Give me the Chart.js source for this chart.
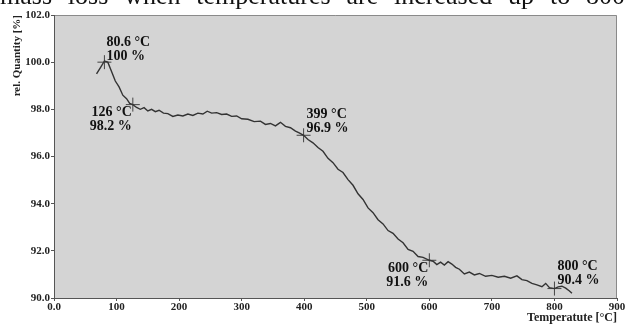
<!DOCTYPE html>
<html>
<head>
<meta charset="utf-8">
<script src="https://cdn.jsdelivr.net/npm/chart.js@4/dist/chart.umd.min.js"></script>
<style>
  html, body { margin: 0; padding: 0; background: #fff; }
  #wrap { width: 625px; height: 325px; position: relative; }
</style>
</head>
<body>
<div id="wrap"><canvas id="chart-tga"></canvas></div>
<script>
// TGA trace: temperature [°C] vs rel. quantity [%]
var temps = [68, 75, 80.6, 86, 92, 98, 104, 110, 116, 121, 126, 132, 138, 144, 150, 156, 162, 168, 175, 182,
    190, 198, 206, 214, 222, 230, 238, 245, 252, 260, 268, 276, 284, 292, 300, 310, 320, 330, 338, 346,
    354, 362, 370, 378, 386, 392, 399, 406, 414, 422, 430, 438, 446, 454, 462, 470, 478, 486, 494, 502,
    510, 518, 526, 534, 542, 550, 558, 566, 574, 582, 590, 600, 606, 612, 618, 624, 630, 636, 642, 648,
    656, 664, 672, 680, 690, 700, 710, 720, 730, 740, 748, 756, 764, 772, 780, 786, 792, 800, 806, 812,
    818, 824, 828];
var quantity = [99.5, 99.8, 100.05, 100.0, 99.6, 99.2, 98.95, 98.6, 98.45, 98.25, 98.2, 98.08, 98.0, 98.07, 97.93, 98.0, 97.9, 97.96, 97.84, 97.82,
    97.7, 97.76, 97.72, 97.8, 97.74, 97.84, 97.8, 97.92, 97.84, 97.86, 97.78, 97.8, 97.7, 97.72, 97.6, 97.58, 97.48, 97.5, 97.36, 97.4,
    97.3, 97.45, 97.28, 97.22, 97.08, 97.0, 96.9, 96.72, 96.58, 96.38, 96.22, 95.92, 95.74, 95.46, 95.32, 95.02, 94.78, 94.42, 94.18, 93.82,
    93.62, 93.32, 93.14, 92.86, 92.74, 92.5, 92.34, 92.06, 91.98, 91.76, 91.72, 91.6, 91.56, 91.42, 91.52, 91.4, 91.54, 91.44, 91.3, 91.22,
    91.02, 91.1, 90.98, 91.04, 90.92, 90.96, 90.88, 90.92, 90.84, 90.94, 90.78, 90.74, 90.62, 90.56, 90.48, 90.62, 90.44, 90.4, 90.47, 90.5,
    90.42, 90.3, 90.2];

// marked points on the curve
var markTemps = [80.6, 126, 399, 600, 800];
var markValues = [100, 98.2, 96.9, 91.6, 90.4];
var markLabels = [['80.6 °C', '100 %'], ['126 °C', '98.2 %'], ['399 °C', '96.9 %'], ['600 °C', '91.6 %'], ['800 °C', '90.4 %']];

var xTicks = [0, 100, 200, 300, 400, 500, 600, 700, 800, 900];
var yTicks = [90, 92, 94, 96, 98, 100, 102];

var captionText = 'mass loss when temperatures are increased up to 800';

var serif = '"Liberation Serif", "Times New Roman", serif';

var curvePoints = temps.map(function(t, i) { return {x: t, y: quantity[i]}; });
var markPoints = markTemps.map(function(t, i) { return {x: t, y: markValues[i]}; });

// label placement around each mark: [dx, dy of first line, align]
var labelPlace = [[2, -20, 'left'], [-1, 8, 'right'], [3, -21, 'left'], [-1, 8, 'right'], [3, -22, 'left']];

var plotBackground = {
    id: 'plotBackground',
    beforeDraw: function(chart) {
        var ctx = chart.ctx, a = chart.chartArea;
        ctx.save();
        ctx.fillStyle = '#d4d4d4';
        ctx.fillRect(a.left, a.top, a.right - a.left, a.bottom - a.top);
        ctx.strokeStyle = '#8a8a8a';
        ctx.lineWidth = 1;
        ctx.beginPath();
        ctx.moveTo(a.left, a.top + 0.5);
        ctx.lineTo(a.right - 0.5, a.top + 0.5);
        ctx.lineTo(a.right - 0.5, a.bottom);
        ctx.stroke();
        ctx.restore();
    }
};

// cut-off sentence from the page above the figure
var caption = {
    id: 'caption',
    afterDraw: function(chart) {
        var ctx = chart.ctx;
        var words = captionText.split(' ');
        ctx.save();
        ctx.font = '26px ' + serif;
        ctx.fillStyle = '#111';
        ctx.textBaseline = 'alphabetic';
        var total = 0;
        words.forEach(function(w) { total += ctx.measureText(w).width; });
        var gap = (625 - total) / (words.length - 1);
        var x = 0;
        words.forEach(function(w) {
            ctx.fillText(w, x, 4);
            x += ctx.measureText(w).width + gap;
        });
        ctx.restore();
    }
};

var markLabelsPlugin = {
    id: 'markLabels',
    afterDatasetsDraw: function(chart) {
        var ctx = chart.ctx;
        var xs = chart.scales.x, ys = chart.scales.y;
        ctx.save();
        ctx.font = 'bold 14px ' + serif;
        ctx.fillStyle = '#111';
        ctx.textBaseline = 'middle';
        markTemps.forEach(function(t, i) {
            var px = xs.getPixelForValue(t);
            var py = ys.getPixelForValue(markValues[i]);
            var p = labelPlace[i];
            ctx.textAlign = p[2];
            ctx.fillText(markLabels[i][0], px + p[0], py + p[1]);
            ctx.fillText(markLabels[i][1], px + p[0], py + p[1] + 14);
        });
        ctx.restore();
    }
};

var configTga = {
    type: 'scatter',
    data: {
        datasets: [{
            label: 'rel. Quantity',
            data: curvePoints,
            showLine: true,
            borderColor: '#333',
            borderWidth: 1.4,
            pointRadius: 0,
            tension: 0
        }, {
            label: 'marks',
            data: markPoints,
            showLine: false,
            pointStyle: 'cross',
            pointRadius: 7,
            borderColor: '#444',
            borderWidth: 1,
            backgroundColor: '#444'
        }]
    },
    options: {
        responsive: true,
        maintainAspectRatio: false,
        animation: false,
        layout: { padding: { top: 15, right: 5, left: 0, bottom: 0 } },
        plugins: {
            legend: { display: false },
            tooltip: { enabled: false }
        },
        scales: {
            x: {
                type: 'linear',
                min: 0,
                max: 900,
                afterBuildTicks: function(scale) {
                    scale.ticks = xTicks.map(function(v) { return {value: v}; });
                },
                afterFit: function(scale) {
                    scale.height = 27;
                    scale.paddingLeft = 0;
                    scale.paddingRight = 0;
                },
                grid: { drawOnChartArea: false, drawTicks: true, tickLength: 3, color: '#555' },
                border: { display: true, color: '#555', width: 1 },
                ticks: {
                    padding: 0,
                    maxRotation: 0,
                    color: '#222',
                    font: { family: serif, size: 11, weight: 'bold' },
                    callback: function(v) { return v === 0 ? '0.0' : String(v); }
                },
                title: {
                    display: true,
                    text: 'Temperatute [°C]',
                    align: 'end',
                    color: '#222',
                    padding: { top: 1, bottom: 0 },
                    font: { family: serif, size: 12, weight: 'bold' }
                }
            },
            y: {
                min: 90,
                max: 102,
                afterBuildTicks: function(scale) {
                    scale.ticks = yTicks.map(function(v) { return {value: v}; });
                },
                afterFit: function(scale) {
                    scale.width = 54;
                    scale.paddingTop = 0;
                    scale.paddingBottom = 0;
                },
                grid: { drawOnChartArea: false, drawTicks: true, tickLength: 3, color: '#555' },
                border: { display: true, color: '#555', width: 1 },
                ticks: {
                    padding: 1,
                    color: '#222',
                    font: { family: serif, size: 11, weight: 'bold' },
                    callback: function(v) { return v.toFixed(1); }
                },
                title: {
                    display: true,
                    text: 'rel. Quantity [%]',
                    align: 'end',
                    color: '#222',
                    padding: { top: 11, bottom: 0 },
                    font: { family: serif, size: 11, weight: 'bold' }
                }
            }
        }
    },
    plugins: [plotBackground, markLabelsPlugin, caption]
};

window.onload = function() {
    var ctxTga = document.getElementById('chart-tga').getContext('2d');
    window.myTga = new Chart(ctxTga, configTga);
};
</script>
</body>
</html>
